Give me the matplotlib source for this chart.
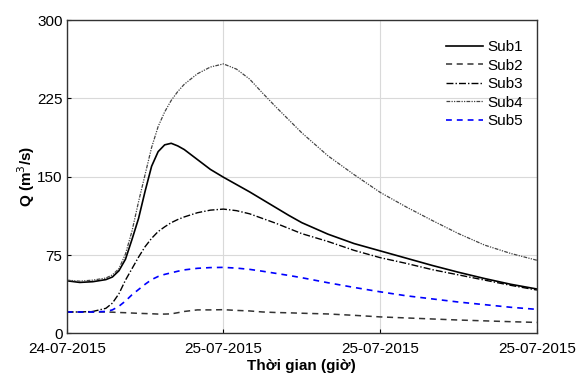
import numpy as np
import matplotlib.pyplot as plt

plt.rcParams['font.family'] = ['Liberation Sans', 'DejaVu Sans']

# time in hours from start of record
hours = [0, 1, 2, 3, 3.5, 4, 4.5, 5, 5.5, 6, 6.5, 7, 7.5, 8, 8.5, 9, 10, 11, 12,
         13, 14, 15, 16, 17, 18, 20, 22, 24, 26, 28, 30, 32, 34, 36]

sub1 = [50.4, 48.8, 49.5, 51.5, 54, 60, 71, 90, 110, 136, 160, 174, 180.5, 182,
        179.5, 176, 166.5, 157, 149.5, 142.5, 135.5, 128, 120.5, 113, 106, 95,
        86, 79, 72, 65, 58.5, 52.5, 47, 42.5]
sub2 = [20.5, 20.5, 20.5, 20.5, 20.3, 20, 19.8, 19.5, 19.2, 19, 18.8, 18.5, 18.5,
        18.7, 19.8, 21, 22.5, 22.5, 22.7, 22, 21.5, 20.5, 20, 19.7, 19.3, 18.6,
        17.3, 15.8, 14.8, 13.8, 12.8, 12, 11.2, 10.5]
sub3 = [20.5, 20.5, 21, 24, 29, 38, 51, 62, 73, 83, 91, 97.5, 102, 106, 109,
        111.5, 115.5, 118, 119, 117.5, 114.5, 110, 105.5, 100.5, 95.5, 88, 79.5,
        72.5, 67, 61, 56, 51, 46, 41.5]
sub4 = [51, 50, 51, 53, 56, 62, 76, 98, 126, 152, 178, 198, 212, 223, 231.5,
        238.5, 248.5, 255, 258, 253, 243.5, 230, 217, 204.5, 192, 170, 152, 135,
        121, 108, 95.5, 84.5, 76.5, 70]
sub5 = [20.5, 20.5, 20.5, 21, 22.5, 26, 31, 37, 42, 47, 51.5, 54.5, 56.5, 58,
        59.5, 60.8, 62.3, 63, 63.2, 62.5, 61.3, 59.5, 57.5, 55.5, 53.3, 48.5, 44,
        39.8, 36, 33, 30, 27.5, 25, 23]

xticks = [0, 12, 24, 36]
xticklabels = ['24-07-2015', '25-07-2015', '25-07-2015', '25-07-2015']
yticks = [0, 75, 150, 225, 300]

fig = plt.figure(figsize=(5.83, 3.78), dpi=100)
ax = fig.add_axes([0.1144, 0.118, 0.8066, 0.829])

ax.plot(hours, sub1, color='black', linewidth=1.2, label='Sub1')
ax.plot(hours, sub2, color='#333333', linewidth=1.1, linestyle=(0, (4, 3)), label='Sub2')
ax.plot(hours, sub3, color='black', linewidth=1.0, linestyle=(0, (5, 1.5, 1, 1.5)), label='Sub3')
ax.plot(hours, sub4, color='#444444', linewidth=0.9, linestyle=(0, (3, 1, 1, 1, 1, 1)), label='Sub4')
ax.plot(hours, sub5, color='blue', linewidth=1.2, linestyle=(0, (3.5, 3)), label='Sub5')

ax.set_xlim(0, 36)
ax.set_ylim(0, 300)
ax.set_xticks(xticks)
ax.set_xticklabels(xticklabels)
ax.set_yticks(yticks)
ax.tick_params(labelsize=11, direction='in', length=3)
ax.tick_params(axis='x', pad=6)
ax.tick_params(axis='y', pad=3)
ax.grid(True, color='#d9d9d9', linewidth=0.8)
ax.set_axisbelow(True)

ax.set_xlabel('Thời gian (giờ)', fontsize=11, fontweight='bold', labelpad=2)
ax.set_ylabel('Q (m$^3$/s)', fontsize=11, fontweight='bold', labelpad=0)

for s in ax.spines.values():
    s.set_color('#333333')
    s.set_linewidth(1.0)

ax.legend(loc='upper right', frameon=False, fontsize=11, handlelength=2.4,
          labelspacing=0.3, handletextpad=0.3, bbox_to_anchor=(1.0, 0.98))

fig.savefig('out.png', dpi=100)
